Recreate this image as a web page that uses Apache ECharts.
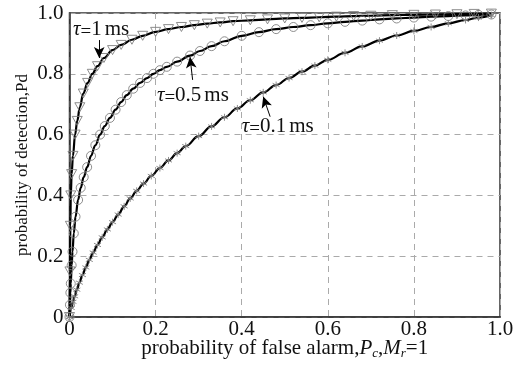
<!DOCTYPE html>
<html>
<head>
<meta charset="utf-8">
<script src="https://cdn.jsdelivr.net/npm/echarts@6/dist/echarts.min.js"></script>
<style>html,body{margin:0;padding:0;background:#fff;}#c{width:518px;height:372px;}</style>
</head>
<body>
<div id="c"></div>
<script>
// tick labels
const xTicks = [0, 0.2, 0.4, 0.6, 0.8, 1.0];
const yTicks = [0, 0.2, 0.4, 0.6, 0.8, 1.0];

// tau = 1 ms (triangles)
const pf1 = [0,0.001,0.002,0.003,0.005,0.008,0.013,0.018,0.024,0.032,0.042,0.053,0.065,0.08,0.1,0.12,0.145,0.17,0.2,0.23,0.26,0.29,0.32,0.35,0.38,0.42,0.46,0.5,0.54,0.58,0.62,0.66,0.7,0.75,0.8,0.85,0.9,0.94,0.98];
const pd1 = [0,0.15,0.3,0.4,0.47,0.53,0.6,0.645,0.69,0.735,0.77,0.8,0.825,0.852,0.878,0.895,0.912,0.925,0.938,0.947,0.954,0.96,0.965,0.969,0.973,0.976,0.979,0.982,0.984,0.986,0.988,0.99,0.991,0.993,0.994,0.995,0.996,0.997,0.998];

// tau = 0.5 ms (circles)
const pf05 = [0,0.001,0.002,0.003,0.005,0.007,0.01,0.014,0.02,0.026,0.033,0.041,0.05,0.06,0.071,0.082,0.094,0.107,0.12,0.133,0.148,0.164,0.18,0.195,0.21,0.226,0.25,0.28,0.303,0.33,0.36,0.4,0.44,0.48,0.52,0.56,0.6,0.64,0.68,0.72,0.76,0.8,0.84,0.88,0.92,0.95,0.98];
const pd05 = [0,0.04,0.08,0.11,0.17,0.215,0.275,0.33,0.385,0.425,0.46,0.493,0.53,0.565,0.6,0.628,0.655,0.682,0.707,0.73,0.751,0.77,0.786,0.8,0.812,0.823,0.84,0.86,0.875,0.891,0.907,0.925,0.937,0.947,0.954,0.96,0.966,0.971,0.975,0.979,0.982,0.985,0.988,0.99,0.992,0.994,0.995];

// tau = 0.1 ms (asterisks)
const pf01 = [0,0.004,0.008,0.012,0.017,0.023,0.03,0.038,0.046,0.055,0.065,0.076,0.088,0.1,0.113,0.127,0.141,0.156,0.172,0.19,0.21,0.23,0.25,0.27,0.3,0.33,0.36,0.39,0.42,0.45,0.48,0.51,0.54,0.57,0.6,0.64,0.68,0.72,0.76,0.8,0.84,0.88,0.92,0.95,0.98];
const pd01 = [0,0.03,0.05,0.068,0.09,0.113,0.138,0.163,0.188,0.212,0.237,0.262,0.288,0.312,0.337,0.364,0.39,0.415,0.439,0.464,0.49,0.515,0.539,0.562,0.595,0.627,0.657,0.686,0.713,0.739,0.763,0.786,0.807,0.827,0.846,0.869,0.89,0.909,0.926,0.941,0.954,0.966,0.977,0.985,0.993];

// annotations (data coordinates)
const labels = [
  {text: '1', at: [0.008, 0.947], tail: [0.069, 0.911], tip: [0.069, 0.852]},
  {text: '0.5', at: [0.203, 0.73], tail: [0.286, 0.78], tip: [0.28, 0.855]},
  {text: '0.1', at: [0.4, 0.628], tail: [0.466, 0.659], tip: [0.45, 0.725]}
];

const FONT = 'Liberation Serif';
const zip = (a, b) => a.map((v, i) => [v, b[i]]);
const markerStyle = {color: 'rgba(0,0,0,0)', borderColor: '#808080', borderWidth: 0.9};

function mkSeries(name, xs, ys, symbol, size, lab) {
  return {
    name, type: 'line', data: zip(xs, ys),
    smooth: 0.4, smoothMonotone: 'x',
    symbol, symbolSize: size, showAllSymbol: true,
    lineStyle: {color: '#000', width: 2.2},
    itemStyle: markerStyle,
    emphasis: {disabled: true},
    markLine: {
      silent: true, symbol: ['none', 'arrow'], symbolSize: [8, 11],
      label: {show: false},
      lineStyle: {color: '#000', width: 1, type: 'solid'},
      data: [[{coord: lab.tail}, {coord: lab.tip}]]
    }
  };
}

const chart = echarts.init(document.getElementById('c'), null, {renderer: 'canvas'});
const fmt = v => (v === 0 ? '0' : v.toFixed(1));
chart.setOption({
  animation: false,
  backgroundColor: '#fff',
  textStyle: {fontFamily: FONT},
  grid: {left: 69.5, right: 18, top: 13, bottom: 55, show: true, borderColor: '#333', borderWidth: 1.5, backgroundColor: 'transparent'},
  xAxis: {
    type: 'value', min: xTicks[0], max: xTicks[xTicks.length - 1], interval: 0.2,
    axisLine: {show: true, lineStyle: {color: '#333', width: 1.5}},
    axisTick: {show: false},
    axisLabel: {fontFamily: FONT, fontSize: 21, color: '#111', margin: 2, formatter: fmt},
    splitLine: {show: true, lineStyle: {color: '#aaa', type: [6, 5], width: 1}},
    name: '{n|probability of false alarm,}{i|P}{s|c}{n|,}{i|M}{s|r}{n|=1}',
    nameLocation: 'middle', nameGap: 20, nameMoveOverlap: false,
    nameTextStyle: {
      rich: {
        n: {fontFamily: FONT, fontSize: 21, color: '#111'},
        i: {fontFamily: FONT, fontSize: 21, fontStyle: 'italic', color: '#111'},
        s: {fontFamily: FONT, fontSize: 13, fontStyle: 'italic', color: '#111', padding: [10, 0, 0, 0]}
      }
    }
  },
  yAxis: {
    type: 'value', min: yTicks[0], max: yTicks[yTicks.length - 1], interval: 0.2,
    axisLine: {show: true, lineStyle: {color: '#333', width: 1.5}},
    axisTick: {show: false},
    axisLabel: {fontFamily: FONT, fontSize: 21, color: '#111', margin: 6, formatter: fmt},
    splitLine: {show: true, lineStyle: {color: '#aaa', type: [6, 5], width: 1}},
    name: 'probability of detection,Pd',
    nameLocation: 'middle', nameGap: 38, nameMoveOverlap: false,
    nameTextStyle: {fontFamily: FONT, fontSize: 17, color: '#111'}
  },
  series: [
    mkSeries('tau=1ms', pf1, pd1, 'path://M0,0L10,0L5,9Z', [10, 9], labels[0]),
    mkSeries('tau=0.5ms', pf05, pd05, 'circle', 9, labels[1]),
    mkSeries('tau=0.1ms', pf01, pd01, 'path://M5,0L5,10M0.7,2.5L9.3,7.5M0.7,7.5L9.3,2.5', 7, labels[2])
  ]
});

const g = labels.map(l => {
  const p = chart.convertToPixel({gridIndex: 0}, l.at);
  return {
    type: 'text', x: p[0], y: p[1], z: 100,
    style: {
      text: '{t|τ}{e|=}{n|' + l.text + '}{m|ms}',
      verticalAlign: 'middle', align: 'left',
      rich: {
        t: {fontFamily: FONT, fontSize: 21, fontStyle: 'italic', fill: '#111'},
        e: {fontFamily: FONT, fontSize: 19, fill: '#111', padding: [6, 0, 0, 0]},
        n: {fontFamily: FONT, fontSize: 21, fill: '#111'},
        m: {fontFamily: FONT, fontSize: 21, fill: '#111', padding: [0, 0, 0, 3]}
      }
    }
  };
});
chart.setOption({graphic: g});
</script>
</body>
</html>
